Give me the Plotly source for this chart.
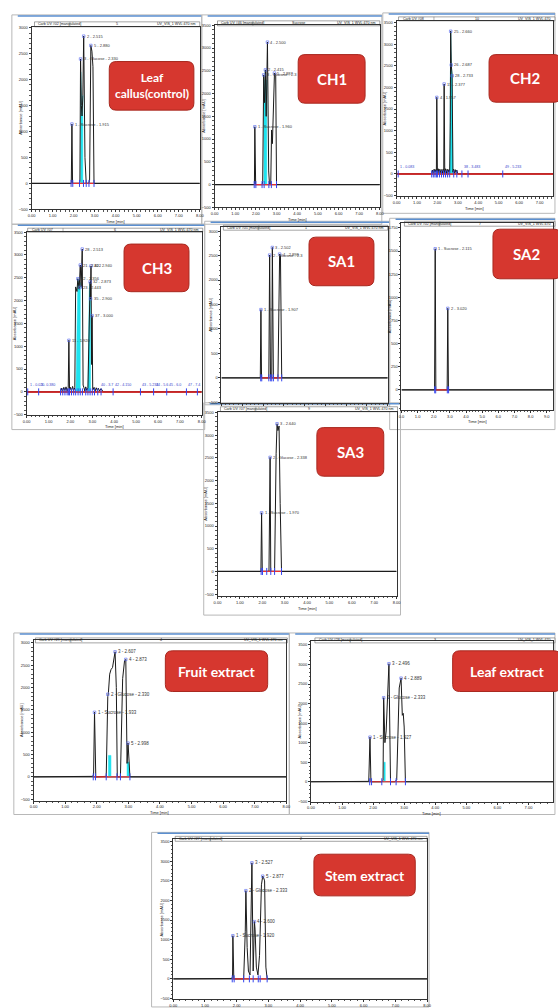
import plotly.graph_objects as go

W, H = 558, 1008

# ================= DATA (time [min], absorbance [mAU]) =================
# Leaf callus (control)
callus_t = [0.00, 1.86, 1.89, 1.92, 1.95, 2.27, 2.30, 2.33, 2.37, 2.40, 2.44, 2.48, 2.54, 2.60, 2.72, 2.76, 2.82, 2.87, 2.92, 2.97, 8.00]
callus_y = [0, 0, 20, 1145, 0, 0, 40, 2400, 1500, 1300, 1700, 2840, 500, 0, 0, 60, 2660, 2550, 2250, 0, 0]
callus_cyan_t = [2.34, 2.34, 2.37, 2.40, 2.44, 2.44]
callus_cyan_y = [0, 2150, 1500, 1300, 1700, 0]
callus_labels = [(1.92, 1145, "1 - Sucrose - 1.915"), (2.33, 2400, "3 - Glucose - 2.330"),
                 (2.48, 2840, "2 - 2.515"), (2.82, 2660, "5 - 2.880")]
callus_limits = [1.88, 1.96, 2.28, 2.47, 2.60, 2.73, 2.97]

# CH1
ch1_t = [0.00, 1.90, 1.93, 1.95, 1.99, 2.30, 2.33, 2.38, 2.42, 2.46, 2.50, 2.56, 2.62, 2.66, 2.72, 2.76, 2.80, 2.86, 2.90, 2.96, 3.00, 8.00]
ch1_y = [0, 0, 20, 1270, 0, 0, 60, 2410, 1800, 2520, 1500, 3130, 300, 0, 0, 1200, 900, 2300, 2450, 2400, 0, 0]
ch1_cyan_t = [2.39, 2.39, 2.42, 2.46, 2.50, 2.53, 2.53]
ch1_cyan_y = [0, 2300, 1800, 2520, 1500, 2300, 0]
ch1_labels = [(1.95, 1270, "1 - Sucrose - 1.960"), (2.38, 2410, "3 - Glucose - 2.3"),
              (2.46, 2520, "2 - 2.415"), (2.56, 3130, "4 - 2.500"), (2.90, 2450, "5 - 2.887")]
ch1_limits = [1.92, 2.00, 2.30, 2.40, 2.63, 2.75, 3.00]

# CH2
ch2_t = [0.00, 1.72, 1.76, 1.80, 1.84, 1.88, 1.92, 1.95, 1.97, 2.00, 2.04, 2.08, 2.12, 2.16, 2.20, 2.24, 2.28, 2.31,
         2.33, 2.36, 2.40, 2.44, 2.48, 2.52, 2.56, 2.60, 2.63, 2.65, 2.68, 2.72, 2.76, 2.79, 2.83, 2.87, 2.91, 2.95, 3.00, 8.00]
ch2_y = [0, 0, 90, 20, 110, 30, 100, 40, 1770, 30, 120, 20, 110, 30, 100, 20, 110, 40,
         2080, 30, 120, 20, 110, 30, 100, 40, 1200, 3300, 2520, 2270, 40, 110, 20, 100, 30, 90, 0, 0]
ch2_cyan_t = [2.61, 2.63, 2.65, 2.68, 2.72, 2.76, 2.76]
ch2_cyan_y = [0, 1200, 3300, 2520, 2270, 40, 0]
ch2_labels = [(1.97, 1770, "4 - 1.957"), (2.33, 2080, "15 - 2.377"), (2.65, 3300, "25 - 2.660"),
              (2.68, 2520, "26 - 2.687"), (2.72, 2270, "28 - 2.733")]
ch2_base_labels = [(0.08, "1 - 0.083"), (3.20, "38 - 3.483"), (5.20, "49 - 5.233")]
ch2_limits = [0.08, 1.72, 1.80, 1.88, 1.95, 2.00, 2.10, 2.20, 2.30, 2.40, 2.50, 2.60, 2.80, 2.95, 3.20, 3.50, 5.20]

# CH3
ch3_t = [0.00, 1.55, 1.60, 1.65, 1.70, 1.75, 1.80, 1.85, 1.90, 1.93, 1.96, 2.00, 2.05, 2.10, 2.15, 2.20, 2.24, 2.30,
         2.34, 2.40, 2.45, 2.49, 2.54, 2.58, 2.62, 2.66, 2.70, 2.75, 2.80, 2.86, 2.90, 2.92, 2.94, 2.97, 2.99, 3.02,
         3.08, 3.13, 3.18, 3.23, 3.28, 3.33, 3.40, 3.50, 8.00]
ch3_y = [0, 0, 80, 20, 100, 30, 110, 20, 90, 1130, 30, 100, 20, 120, 30, 90, 2300, 2200,
         2480, 2250, 2780, 2290, 3130, 150, 90, 20, 110, 30, 90, 2200, 2410, 2040, 2760, 600, 1670, 40,
         100, 20, 90, 30, 80, 20, 70, 0, 0]
ch3_cyan_t = [2.25, 2.30, 2.34, 2.40, 2.45, 2.45, 2.80, 2.86, 2.90, 2.92, 2.92]
ch3_cyan_y = [0, 2200, 2480, 2250, 2400, 0, 0, 2200, 2410, 2040, 0]
ch3_labels = [(1.93, 1130, "11 - 1.920"), (2.54, 3130, "28 - 2.513"), (2.45, 2780, "21 - 2.422"),
              (2.34, 2480, "22 - 2.356"), (2.45, 2290, "23 - 2.443"), (2.94, 2760, "30 - 2.940"),
              (2.90, 2410, "32 - 2.873"), (2.92, 2040, "35 - 2.900"), (2.99, 1670, "37 - 3.000")]
ch3_base_labels = [(0.05, "1 - 0.020"), (0.55, "3 - 0.380"), (3.30, "40 - 3.7"), (3.95, "42 - 4.150"),
                   (5.20, "43 - 5.233"), (5.80, "44 - 5.6"), (6.40, "45 - 6.0"), (7.30, "47 - 7.4")]
ch3_limits = [0.05, 0.55, 1.55, 1.65, 1.75, 1.85, 1.92, 1.96, 2.05, 2.15, 2.24, 2.35, 2.45, 2.55, 2.70, 2.80,
              2.90, 3.00, 3.10, 3.25, 3.40, 3.95, 5.20, 5.80, 6.40, 7.30, 7.80]

# SA1
sa1_t = [0.00, 1.87, 1.90, 1.93, 2.28, 2.32, 2.36, 2.42, 2.45, 2.50, 2.72, 2.76, 2.80, 2.84, 2.90, 8.00]
sa1_y = [0, 0, 1395, 0, 0, 2510, 0, 0, 2665, 0, 0, 2100, 2530, 2500, 0, 0]
sa1_labels = [(1.90, 1395, "1 - Sucrose - 1.907"), (2.32, 2510, "2 - Glucose - 2.3"),
              (2.45, 2665, "3 - 2.502"), (2.80, 2530, "4 - 2.898")]
sa1_limits = [1.89, 1.94, 2.28, 2.37, 2.42, 2.50, 2.72, 2.90]

# SA2
sa2_t = [0.00, 2.05, 2.09, 2.13, 2.83, 2.87, 2.91, 9.40]
sa2_y = [0, 0, 1524, 0, 0, 880, 0, 0]
sa2_labels = [(2.09, 1524, "1 - Sucrose - 2.115"), (2.87, 880, "2 - 3.020")]
sa2_limits = [2.06, 2.12, 2.84, 2.92]

# SA3
sa3_t = [0.00, 1.94, 1.97, 2.00, 2.30, 2.35, 2.38, 2.55, 2.62, 2.66, 2.70, 2.75, 2.80, 2.86, 8.00]
sa3_y = [0, 0, 1290, 0, 0, 2510, 0, 0, 2600, 3250, 3100, 3200, 1500, 0, 0]
sa3_labels = [(1.97, 1290, "1 - Sucrose - 1.970"), (2.35, 2510, "2 - Glucose - 2.338"), (2.66, 3250, "3 - 2.640")]
sa3_limits = [1.95, 2.01, 2.20, 2.38, 2.55, 2.86]

# Fruit extract
fruit_t = [0.00, 1.85, 1.90, 1.93, 1.97, 2.30, 2.35, 2.37, 2.41, 2.45, 2.50, 2.55, 2.58, 2.62, 2.65, 2.75,
           2.82, 2.88, 2.92, 2.96, 2.99, 3.02, 3.05, 8.00]
fruit_y = [0, 10, 30, 1445, 0, 10, 1800, 1890, 2300, 2400, 2450, 2700, 2800, 2000, 0, 0,
           2200, 2600, 2630, 300, 755, 400, 0, 0]
fruit_cyan_t = [2.37, 2.37, 2.45, 2.45, 2.96, 2.96, 3.02, 3.02]
fruit_cyan_y = [0, 480, 480, 0, 0, 330, 330, 0]
fruit_labels = [(1.93, 1445, "1 - Sucrose - 1.933"), (2.35, 1850, "2 - Glucose - 2.330"),
                (2.58, 2800, "3 - 2.607"), (2.92, 2630, "4 - 2.873"), (2.99, 755, "5 - 2.998")]
fruit_limits = [1.89, 1.96, 2.30, 2.64, 2.75, 3.05]

# Leaf extract
leaf_t = [0.00, 1.86, 1.90, 1.93, 2.28, 2.32, 2.34, 2.38, 2.42, 2.46, 2.51, 2.56, 2.70, 2.76, 2.84, 2.90,
          2.94, 2.97, 3.00, 3.04, 8.00]
leaf_y = [0, 10, 1140, 0, 0, 30, 2150, 1000, 1300, 2000, 3020, 0, 0, 50, 2400, 2650,
          1700, 1750, 1400, 0, 0]
leaf_cyan_t = [2.35, 2.35, 2.39, 2.39]
leaf_cyan_y = [0, 500, 500, 0]
leaf_labels = [(1.90, 1140, "1 - Sucrose - 1.927"), (2.34, 2150, "2 - Glucose - 2.333"),
               (2.51, 3020, "3 - 2.496"), (2.90, 2650, "4 - 2.889")]
leaf_limits = [1.89, 1.95, 2.28, 2.56, 2.74, 3.04]

# Stem extract
stem_t = [0.00, 1.84, 1.87, 1.88, 1.91, 2.22, 2.27, 2.29, 2.33, 2.37, 2.42, 2.45, 2.48, 2.52, 2.56, 2.58,
          2.62, 2.67, 2.72, 2.78, 2.82, 2.84, 2.88, 2.92, 2.96, 8.00]
stem_y = [0, 10, 50, 1100, 0, 0, 1200, 2250, 800, 200, 100, 1500, 2960, 200, 1460, 1250,
          300, 100, 600, 2400, 2620, 2600, 2500, 300, 0, 0]
stem_labels = [(1.88, 1100, "1 - Sucrose - 1.920"), (2.29, 2250, "2 - Glucose - 2.333"),
               (2.48, 2960, "3 - 2.527"), (2.56, 1460, "4 - 2.600"), (2.82, 2620, "5 - 2.877")]
stem_limits = [1.86, 1.92, 2.22, 2.40, 2.52, 2.68, 2.74, 2.96]

# ================= LAYOUT HELPERS =================
def X(px):
    return px / W


def Y(py):
    return 1 - py / H


panels = [
    dict(name="Leaf<br>callus(control)", t=callus_t, y=callus_y, ct=callus_cyan_t, cy=callus_cyan_y,
         labels=callus_labels, limits=callus_limits, base=[], fullred=False,
         px=(28, 199), py=(24, 208), xr=[0, 8], yr=[-500, 3020], xfmt=".2f", ydt=500,
         bar=(31, 199, 19, 24, "Carb UV #02 [manipulated]", "5", "UV_VIS_1 WVL:470 nm"),
         frame=(8, 201, 12, 223), box=(107, 59, 193, 108), bfs=12, lfs=4, xlab=True, xtitle=True),
    dict(name="CH1", t=ch1_t, y=ch1_y, ct=ch1_cyan_t, cy=ch1_cyan_y,
         labels=ch1_labels, limits=ch1_limits, base=[], fullred=False,
         px=(214, 382), py=(22, 206), xr=[0, 8], yr=[-500, 3510], xfmt=".2f", ydt=500,
         bar=(217, 382, 18, 23, "Carb UV #46 [manipulated]", "Sucrose", "UV_VIS_1 WVL:470 nm"),
         frame=(201, 384, 12, 223), box=(299, 52, 367, 101), bfs=15, lfs=4, xlab=True, xtitle=True),
    dict(name="CH2", t=ch2_t, y=ch2_y, ct=ch2_cyan_t, cy=ch2_cyan_y,
         labels=ch2_labels, limits=ch2_limits, base=ch2_base_labels, fullred=True,
         px=(399, 558), py=(18, 195), xr=[0, 7.66], yr=[-520, 3540], xfmt=".2f", ydt=500,
         bar=(401, 560, 14, 18, "Carb UV #08", "10", "UV_VIS_1 WVL:470"),
         frame=(385, 560, 10, 212), box=(493, 52, 566, 100), bfs=15, lfs=4, xlab=True, xtitle=True),
    dict(name="CH3", t=ch3_t, y=ch3_y, ct=ch3_cyan_t, cy=ch3_cyan_y,
         labels=ch3_labels, limits=ch3_limits, base=ch3_base_labels, fullred=True,
         px=(23, 201), py=(231, 415), xr=[0, 8], yr=[-500, 3500], xfmt=".2f", ydt=500,
         bar=(24, 202, 227, 231, "Carb UV #07", "6", "UV_VIS_1 WVL:470 nm"),
         frame=(8, 204, 223, 430), box=(122, 243, 188, 291), bfs=15, lfs=4, xlab=True, xtitle=True),
    dict(name="SA1", t=sa1_t, y=sa1_y, ct=[], cy=[],
         labels=sa1_labels, limits=sa1_limits, base=[], fullred=False,
         px=(221, 390), py=(226, 403), xr=[0, 8], yr=[-510, 3080], xfmt=".2f", ydt=500,
         bar=(223, 390, 224, 229, "Carb UV #05 [manipulated]", "1", "UV_VIS_1 WVL:470 nm"),
         frame=(204, 392, 220, 405), box=(310, 236, 376, 285), bfs=15, lfs=4, xlab=False, xtitle=False),
    dict(name="SA2", t=sa2_t, y=sa2_y, ct=[], cy=[],
         labels=sa2_labels, limits=sa2_limits, base=[], fullred=False,
         px=(404, 558), py=(222, 410), xr=[0, 9.39], yr=[-215, 1800], xfmt=".1f", ydt=250,
         bar=(407, 560, 220, 225, "Carb UV #02 [manipulated]", "7", "UV_VIS_1 WVL:470"),
         frame=(392, 560, 217, 430), box=(497, 228, 566, 278), bfs=15, lfs=4, xlab=True, xtitle=True),
    dict(name="SA3", t=sa3_t, y=sa3_y, ct=[], cy=[],
         labels=sa3_labels, limits=sa3_limits, base=[], fullred=False,
         px=(217, 399), py=(412, 598), xr=[0, 8], yr=[-546, 3515], xfmt=".2f", ydt=500,
         bar=(220, 400, 407, 412, "Carb UV #07 [manipulated]", "9", "UV_VIS_1 WVL:470 nm"),
         frame=(203, 403, 403, 617), box=(318, 428, 386, 477), bfs=15, lfs=4, xlab=True, xtitle=True),
    dict(name="Fruit extract", t=fruit_t, y=fruit_y, ct=fruit_cyan_t, cy=fruit_cyan_y,
         labels=fruit_labels, limits=fruit_limits, base=[], fullred=False,
         px=(30, 287), py=(642, 804), xr=[0, 8], yr=[-533, 3067], xfmt=".2f", ydt=500,
         bar=(32, 288, 640, 645, "Carb UV #29 [manipulated]", "4", "UV_VIS_1 WVL:470 nm"),
         frame=(10, 290, 635, 818), box=(164, 653, 268, 694), bfs=14, lfs=4.5, xlab=True, xtitle=True),
    dict(name="Leaf extract", t=leaf_t, y=leaf_y, ct=leaf_cyan_t, cy=leaf_cyan_y,
         labels=leaf_labels, limits=leaf_limits, base=[], fullred=False,
         px=(312, 558), py=(643, 805), xr=[0, 7.79], yr=[-508, 3604], xfmt=".2f", ydt=500,
         bar=(316, 560, 640, 645, "Carb UV #28 [manipulated]", "3", "UV_VIS_1 WVL:470"),
         frame=(290, 560, 635, 818), box=(456, 653, 566, 694), bfs=14, lfs=4.5, xlab=True, xtitle=True),
    dict(name="Stem extract", t=stem_t, y=stem_y, ct=[], cy=[],
         labels=stem_labels, limits=stem_limits, base=[], fullred=False,
         px=(172, 430), py=(843, 1004), xr=[0, 8], yr=[-515, 3561], xfmt=".2f", ydt=500,
         bar=(174, 430, 840, 845, "Carb UV #27 [manipulated]", "2", "UV_VIS_1 WVL:470 nm"),
         frame=(150, 432, 836, 1012), box=(315, 858, 418, 900), bfs=14, lfs=4.5, xlab=True, xtitle=False),
]

fig = go.Figure()
shapes = []
annotations = []
layout_axes = {}
TINY = "Liberation Sans"
BOXFONT = "Lato, Open Sans, sans-serif"


def ann(**kw):
    kw.setdefault("showarrow", False)
    kw.setdefault("xanchor", "center")
    kw.setdefault("yanchor", "middle")
    annotations.append(kw)


def rrect_path(x0, y0, x1, y1, r):
    pts = [("M", x0 + r, y0), ("L", x1 - r, y0), ("Q", x1, y0, x1, y0 + r), ("L", x1, y1 - r),
           ("Q", x1, y1, x1 - r, y1), ("L", x0 + r, y1), ("Q", x0, y1, x0, y1 - r), ("L", x0, y0 + r),
           ("Q", x0, y0, x0 + r, y0)]
    s = ""
    for p in pts:
        coords = p[1:]
        s += p[0] + " " + " ".join(
            f"{X(coords[i]):.5f},{Y(coords[i + 1]):.5f}" for i in range(0, len(coords), 2)) + " "
    return s + "Z"


for i, p in enumerate(panels, start=1):
    xa = "x" if i == 1 else f"x{i}"
    ya = "y" if i == 1 else f"y{i}"
    xkey = "xaxis" if i == 1 else f"xaxis{i}"
    ykey = "yaxis" if i == 1 else f"yaxis{i}"

    # window frame
    fx0, fx1, fy0, fy1 = p["frame"]
    shapes.append(dict(type="rect", xref="paper", yref="paper", x0=X(fx0), x1=X(fx1), y0=Y(fy1), y1=Y(fy0),
                       line=dict(color="#b8b8b8", width=1), layer="below"))
    shapes.append(dict(type="line", xref="paper", yref="paper", x0=X(fx0 + 6), x1=X(fx1), y0=Y(fy0 + 1), y1=Y(fy0 + 1),
                       line=dict(color="#5b8fd0", width=1.5), layer="below"))

    # title bar
    bx0, bx1, by0, by1, t1, t2, t3 = p["bar"]
    shapes.append(dict(type="rect", xref="paper", yref="paper", x0=X(bx0), x1=X(bx1), y0=Y(by1), y1=Y(by0),
                       line=dict(color="#666", width=0.6), fillcolor="white", layer="below"))
    shapes.append(dict(type="line", xref="paper", yref="paper", x0=X(bx0 + 36), x1=X(bx0 + 36), y0=Y(by1), y1=Y(by0),
                       line=dict(color="#666", width=0.5), layer="below"))
    ym = Y((by0 + by1) / 2)
    ann(xref="paper", yref="paper", x=X(bx0 + 2), y=ym, text=t1, xanchor="left",
        font=dict(size=3.6, color="#222", family=TINY))
    ann(xref="paper", yref="paper", x=X((bx0 + bx1) / 2), y=ym, text=t2,
        font=dict(size=3.6, color="#222", family=TINY))
    ann(xref="paper", yref="paper", x=X(bx1 - 2), y=ym, text=t3, xanchor="right",
        font=dict(size=3.6, color="#222", family=TINY))

    # axes
    px0, px1 = p["px"]
    py0, py1 = p["py"]
    layout_axes[xkey] = dict(domain=[X(px0), X(px1)], range=p["xr"], anchor=ya, showline=True, mirror=True,
                             linecolor="#333", linewidth=1, ticks="outside", ticklen=2, tickwidth=0.6,
                             tickcolor="#333", tickfont=dict(size=4, color="#222", family=TINY),
                             tickformat=p["xfmt"], dtick=1, tick0=0, showgrid=False, zeroline=False,
                             showticklabels=p["xlab"],
                             minor=dict(ticks="outside", ticklen=1.2, dtick=0.2, tickcolor="#555", tickwidth=0.5))
    layout_axes[ykey] = dict(domain=[Y(py1), Y(py0)], range=p["yr"], anchor=xa, showline=True, mirror=True,
                             linecolor="#333", linewidth=1, ticks="outside", ticklen=2, tickwidth=0.6,
                             tickcolor="#333", tickfont=dict(size=4, color="#222", family=TINY),
                             dtick=p["ydt"], tick0=0, showgrid=False, zeroline=False,
                             minor=dict(ticks="outside", ticklen=1.2, dtick=p["ydt"] / 5, tickcolor="#555", tickwidth=0.5))

    # axis titles
    if p["xtitle"]:
        ann(xref="paper", yref="paper", x=X((px0 + min(px1, 558)) / 2), y=Y(py1 + 12),
            text="Time [min]", font=dict(size=4, color="#222", family=TINY))
    ann(xref="paper", yref="paper", x=X(px0 - 12), y=Y((py0 + py1) / 2),
        text="Absorbance [mAU]", textangle=-90, font=dict(size=4, color="#222", family=TINY))

    # zero line of the chromatogram across the axis
    fig.add_trace(go.Scatter(x=[p["xr"][0], p["xr"][1]], y=[0, 0], mode="lines", xaxis=xa, yaxis=ya,
                             line=dict(color="#444", width=1.2), hoverinfo="skip", showlegend=False))
    # cyan integrated area
    if p["ct"]:
        fig.add_trace(go.Scatter(x=p["ct"], y=p["cy"], mode="lines", fill="toself", fillcolor="#1ee3ef",
                                 line=dict(color="#1ee3ef", width=0.5), xaxis=xa, yaxis=ya,
                                 hoverinfo="skip", showlegend=False))
    # chromatogram
    fig.add_trace(go.Scatter(x=p["t"], y=p["y"], mode="lines", xaxis=xa, yaxis=ya,
                             line=dict(color="#1a1a1a", width=1), hoverinfo="skip", showlegend=False))
    # red integration baseline
    if p["fullred"]:
        fig.add_trace(go.Scatter(x=[p["xr"][0], p["xr"][1]], y=[0, 0], mode="lines", xaxis=xa, yaxis=ya,
                                 line=dict(color="#ee2020", width=1.5), hoverinfo="skip", showlegend=False))
    else:
        lim = p["limits"]
        rx, ry = [], []
        for a, b in zip(lim[:-1], lim[1:]):
            rx += [a, b, None]
            ry += [0, 0, None]
        fig.add_trace(go.Scatter(x=rx, y=ry, mode="lines", xaxis=xa, yaxis=ya,
                                 line=dict(color="#ee3030", width=1.2), hoverinfo="skip", showlegend=False))
    # blue delimiters
    fig.add_trace(go.Scatter(x=p["limits"], y=[0] * len(p["limits"]), mode="markers", xaxis=xa, yaxis=ya,
                             marker=dict(symbol="line-ns-open", size=5, color="#3344ee",
                                         line=dict(width=1, color="#3344ee")),
                             hoverinfo="skip", showlegend=False))
    # peak markers and labels
    fig.add_trace(go.Scatter(x=[l[0] for l in p["labels"]], y=[l[1] for l in p["labels"]], mode="markers",
                             xaxis=xa, yaxis=ya,
                             marker=dict(symbol="square-open", size=2.5, color="#5566ee", line=dict(width=0.6)),
                             hoverinfo="skip", showlegend=False))
    for (tt, vv, txt) in p["labels"]:
        ann(xref=xa, yref=ya, x=tt, y=vv, text=txt, xanchor="left", xshift=1,
            font=dict(size=p["lfs"], color="#333", family=TINY))
    for (tt, txt) in p["base"]:
        ann(xref=xa, yref=ya, x=tt, y=60, text=txt, xanchor="left", yanchor="bottom",
            font=dict(size=3.6, color="#3344cc", family=TINY))

    # red label box
    x0, y0, x1, y1 = p["box"]
    shapes.append(dict(type="path", xref="paper", yref="paper", path=rrect_path(x0, y0, x1, y1, 7),
                       fillcolor="#d6372f", line=dict(color="#a8281f", width=1), layer="above"))
    ann(xref="paper", yref="paper", x=X((x0 + x1) / 2), y=Y((y0 + y1) / 2), text=f"<b>{p['name']}</b>",
        font=dict(size=p["bfs"], color="white", family=BOXFONT))

fig.update_layout(width=W, height=H, margin=dict(l=0, r=0, t=0, b=0),
                  paper_bgcolor="white", plot_bgcolor="white",
                  shapes=shapes, annotations=annotations, showlegend=False, **layout_axes)

fig.write_html("out.html", config={"displayModeBar": False},
               post_script="document.body.style.margin='0px';")
